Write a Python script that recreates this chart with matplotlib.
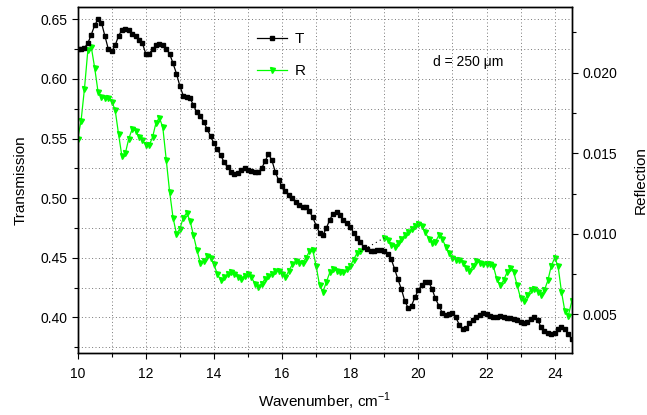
import matplotlib
matplotlib.use('Agg')
import matplotlib.pyplot as plt
from matplotlib.ticker import MultipleLocator
import numpy as np

plt.rcParams['font.family'] = ['Liberation Sans', 'DejaVu Sans']
plt.rcParams['mathtext.fontset'] = 'custom'
plt.rcParams['mathtext.rm'] = 'Liberation Sans'

# wavenumber, cm^-1
wave_t = [round(10.0 + 0.1 * i, 1) for i in range(146)]

# transmission (left axis)
trans = [
    0.6254, 0.625, 0.626, 0.630, 0.637, 0.645, 0.650, 0.647, 0.636, 0.625,
    0.623, 0.628, 0.636, 0.641, 0.642, 0.641, 0.638, 0.636, 0.633, 0.630,
    0.621, 0.621, 0.625, 0.628, 0.629, 0.628, 0.625, 0.621, 0.613, 0.6045,
    0.594, 0.586, 0.585, 0.5838, 0.578, 0.572, 0.569, 0.564, 0.558, 0.552,
    0.546, 0.541, 0.536, 0.530, 0.526, 0.522, 0.520, 0.521, 0.524, 0.525,
    0.524, 0.523, 0.522, 0.522, 0.525, 0.531, 0.537, 0.532, 0.522, 0.515,
    0.510, 0.506, 0.503, 0.500, 0.497, 0.494, 0.493, 0.493, 0.489, 0.484,
    0.477, 0.471, 0.469, 0.475, 0.482, 0.487, 0.4885, 0.486, 0.482, 0.479,
    0.476, 0.471, 0.467, 0.463, 0.459, 0.457, 0.456, 0.456, 0.4565, 0.4565,
    0.456, 0.453, 0.449, 0.441, 0.432, 0.424, 0.414, 0.408, 0.410, 0.417,
    0.423, 0.427, 0.430, 0.430, 0.424, 0.416, 0.410, 0.404, 0.402, 0.403,
    0.404, 0.400, 0.394, 0.390, 0.391, 0.395, 0.398, 0.400, 0.402, 0.4034,
    0.403, 0.401, 0.400, 0.4005, 0.401, 0.400, 0.3995, 0.3995, 0.399, 0.398,
    0.396, 0.395, 0.396, 0.399, 0.4006, 0.398, 0.392, 0.389, 0.387, 0.386,
    0.387, 0.390, 0.392, 0.390, 0.386, 0.382,
]

# reflection (right axis), measured in two pieces
wave_r1 = [round(10.0 + 0.1 * i, 1) for i in range(84)]
refl1 = [
    0.0159, 0.0170, 0.0190, 0.0214, 0.0216, 0.0203, 0.0188, 0.0185, 0.0184, 0.0184,
    0.0182, 0.0177, 0.0162, 0.0148, 0.0150, 0.0159, 0.0165, 0.0164, 0.0160, 0.0158,
    0.0155, 0.0155, 0.0160, 0.0169, 0.0172, 0.0166, 0.0146, 0.0126, 0.0110, 0.0100,
    0.0103, 0.0110, 0.0113, 0.0108, 0.0099, 0.0090, 0.0082, 0.0083, 0.0086, 0.0085,
    0.0081, 0.0075, 0.0071, 0.0073, 0.0075, 0.0076, 0.0075, 0.0073, 0.0072, 0.0074,
    0.0075, 0.0073, 0.0069, 0.0067, 0.0069, 0.0072, 0.0074, 0.0075, 0.0077, 0.0077,
    0.0075, 0.0073, 0.0077, 0.0081, 0.0083, 0.0082, 0.0082, 0.0085, 0.0089, 0.0090,
    0.0080, 0.0068, 0.0064, 0.0070, 0.0076, 0.0078, 0.0077, 0.0076, 0.0076, 0.0078,
    0.0080, 0.0084, 0.0088, 0.0089,
]
wave_r2 = [round(19.0 + 0.1 * i, 1) for i in range(56)]
refl2 = [
    0.00975, 0.0096, 0.0093, 0.0092, 0.0094, 0.0097, 0.0099, 0.0101, 0.0103, 0.0105,
    0.0106, 0.0105, 0.0101, 0.0097, 0.0094, 0.0095, 0.0099, 0.0097, 0.0092, 0.0088,
    0.0085, 0.0084, 0.0084, 0.0082, 0.0079, 0.0077, 0.0080, 0.0083, 0.0082, 0.0081,
    0.0081, 0.0081, 0.0080, 0.0072, 0.0068, 0.0071, 0.0076, 0.0079, 0.0076, 0.0068,
    0.0060, 0.0058, 0.0062, 0.0065, 0.0066, 0.0064, 0.0062, 0.0065, 0.0071, 0.0080,
    0.0085, 0.0080, 0.0064, 0.0052, 0.0049, 0.0058,
]


def style_axis(ax):
    ax.tick_params(direction='out', length=4, width=0.8, labelsize=10)
    ax.tick_params(which='minor', direction='out', length=3, width=0.8)
    for s in ax.spines.values():
        s.set_linewidth(1.0)


def main():
    fig = plt.figure(figsize=(6.47, 4.15), dpi=100)
    ax = fig.add_axes([0.120, 0.1487, 0.7636, 0.8337])
    ax2 = ax.twinx()

    ax.set_zorder(ax2.get_zorder() + 1)
    ax.patch.set_visible(False)

    # grid
    ax.set_xlim(10, 24.5)
    ax.set_ylim(0.37, 0.66)
    ax.xaxis.set_major_locator(MultipleLocator(2))
    ax.xaxis.set_minor_locator(MultipleLocator(1))
    ax.yaxis.set_major_locator(MultipleLocator(0.05))
    ax.yaxis.set_minor_locator(MultipleLocator(0.025))
    ax.grid(True, which='both', linestyle=(0, (1, 2.5)), color='#777777', linewidth=0.7)
    ax.yaxis.set_major_formatter(matplotlib.ticker.FormatStrFormatter('%.2f'))

    ax2.set_ylim(0.00258, 0.02406)
    ax2.yaxis.set_major_locator(MultipleLocator(0.005))
    ax2.yaxis.set_minor_locator(MultipleLocator(0.0025))
    ax2.yaxis.set_major_formatter(matplotlib.ticker.FormatStrFormatter('%.3f'))

    style_axis(ax)
    style_axis(ax2)
    ax.tick_params(axis='x', pad=6)

    # reflection
    green = '#00ff00'
    lr, = ax2.plot(wave_r1, refl1, '-', color=green, lw=0.9, marker='v', ms=3.6,
                   mec=green, mfc=green, label='R')
    ax2.plot(wave_r2, refl2, '-', color=green, lw=0.9, marker='v', ms=3.6,
             mec=green, mfc=green)
    ax2.plot([wave_r1[-1], wave_r2[0]], [refl1[-1], refl2[0]], color='black',
             lw=0.8, linestyle=(0, (1, 3)))

    # transmission
    lt, = ax.plot(wave_t, trans, '-', color='black', lw=0.9, marker='s', ms=2.9,
                  label='T')

    ax.legend(handles=[lt, lr], loc='upper left', bbox_to_anchor=(0.335, 0.968),
              frameon=False, numpoints=1, handlelength=2.0, labelspacing=1.2,
              fontsize=11, handletextpad=0.5)

    ax.text(0.719, 0.842, 'd = 250 \u03bcm', transform=ax.transAxes,
            fontsize=10, va='center', ha='left')

    ax.set_xlabel('Wavenumber, cm$^{-1}$', fontsize=11, labelpad=7)
    ax.set_ylabel('Transmission', fontsize=11, labelpad=9)
    ax2.set_ylabel('Reflection', fontsize=11, labelpad=12)

    fig.savefig('out.png', dpi=100)


if __name__ == '__main__':
    main()
